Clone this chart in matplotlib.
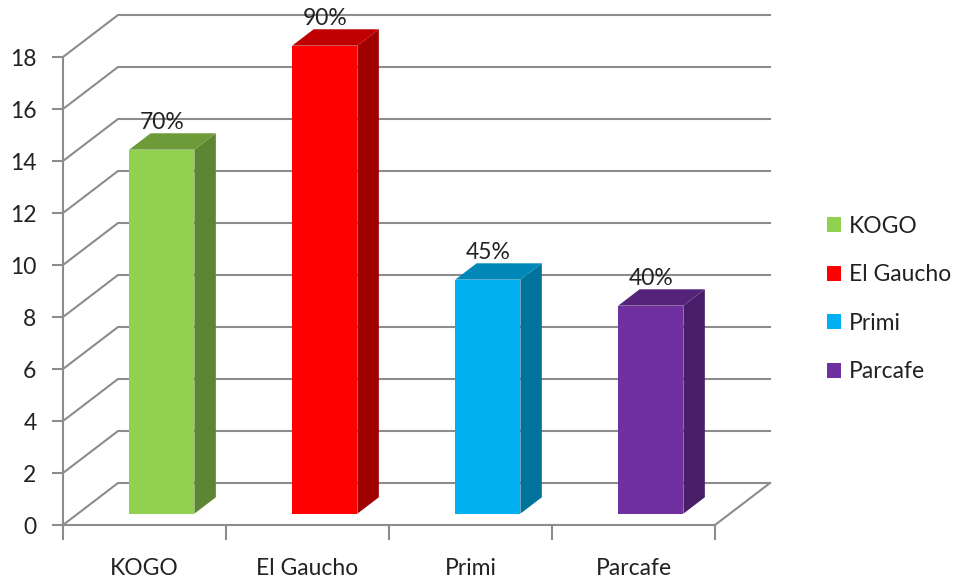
import matplotlib.pyplot as plt
from matplotlib.patches import Polygon, Patch

plt.rcParams['font.family'] = ['Lato', 'DejaVu Sans']

restaurants = ["KOGO", "El Gaucho", "Primi", "Parcafe"]
scores = [14, 18, 9, 8]
pct_labels = ["70%", "90%", "45%", "40%"]
y_ticks = [0, 2, 4, 6, 8, 10, 12, 14, 16, 18]

front_colors = ["#92D050", "#FF0000", "#00B0F0", "#7030A0"]
top_colors = ["#6E9B3A", "#C00000", "#0088B8", "#55247A"]
side_colors = ["#5E8532", "#A00000", "#00729C", "#481E68"]

# oblique "3d" offset for full depth, in data units
DX = 55 / 163
DY = 42 / 26
d0, d1 = 0.27, 0.66   # bar front / back depth
bar_w = 0.40
grid_col = "#8C8C8C"
fs = 16.5

fig = plt.figure(figsize=(9.58, 5.83), dpi=100)
ax = fig.add_axes([63 / 958, 58 / 583, 652 / 958, 468 / 583])
ax.set_xlim(0, len(restaurants))
ax.set_ylim(0, 18)

# walls / floor grid
for v in y_ticks:
    ax.plot([0, DX, len(restaurants) + DX], [v, v + DY, v + DY],
            color=grid_col, lw=1.5, clip_on=False, zorder=1)
ax.plot([len(restaurants), len(restaurants) + DX], [0, DY],
        color=grid_col, lw=1.5, clip_on=False, zorder=1)

# bars
for i, (val, lab) in enumerate(zip(scores, pct_labels)):
    xl = i + 0.5 - bar_w / 2 + d0 * DX + 0.015
    xr = xl + bar_w
    yb = d0 * DY
    yt = yb + val
    ox, oy = (d1 - d0) * DX, (d1 - d0) * DY
    ax.add_patch(Polygon([(xl, yb), (xr, yb), (xr, yt), (xl, yt)],
                         closed=True, fc=front_colors[i], ec="none",
                         clip_on=False, zorder=3))
    ax.add_patch(Polygon([(xr, yb), (xr + ox, yb + oy), (xr + ox, yt + oy), (xr, yt)],
                         closed=True, fc=side_colors[i], ec="none",
                         clip_on=False, zorder=3))
    ax.add_patch(Polygon([(xl, yt), (xr, yt), (xr + ox, yt + oy), (xl + ox, yt + oy)],
                         closed=True, fc=top_colors[i], ec="none",
                         clip_on=False, zorder=3))
    ax.text((xl + xr) / 2, val + d1 * DY + 0.42, lab, ha="center", va="center",
            fontsize=fs, color="#222222", zorder=4, clip_on=False)

# axes
for s in ["top", "right"]:
    ax.spines[s].set_visible(False)
for s in ["left", "bottom"]:
    ax.spines[s].set_color(grid_col)
    ax.spines[s].set_linewidth(1.5)
    ax.spines[s].set_zorder(2)

ax.set_yticks(y_ticks)
ax.tick_params(axis="y", length=8, width=1.5, color=grid_col, pad=11,
               labelsize=fs, labelcolor="#222222")
ax.set_xticks(range(len(restaurants) + 1))
ax.set_xticklabels([])
ax.set_xticks([i + 0.5 for i in range(len(restaurants))], minor=True)
ax.set_xticklabels(restaurants, minor=True)
ax.tick_params(axis="x", which="major", length=11, width=1.5, color=grid_col)
ax.tick_params(axis="x", which="minor", length=0, pad=24,
               labelsize=fs, labelcolor="#222222")

handles = [Patch(fc=c, ec="none") for c in front_colors]
fig.legend(handles, restaurants, loc="center left",
           bbox_to_anchor=(827 / 958, 1 - 299 / 583), frameon=False,
           borderaxespad=0, borderpad=0,
           fontsize=fs, handlelength=0.62, handleheight=0.62,
           handletextpad=0.32, labelspacing=1.2, labelcolor="#222222")

fig.savefig("out.png", dpi=100, facecolor="white")
